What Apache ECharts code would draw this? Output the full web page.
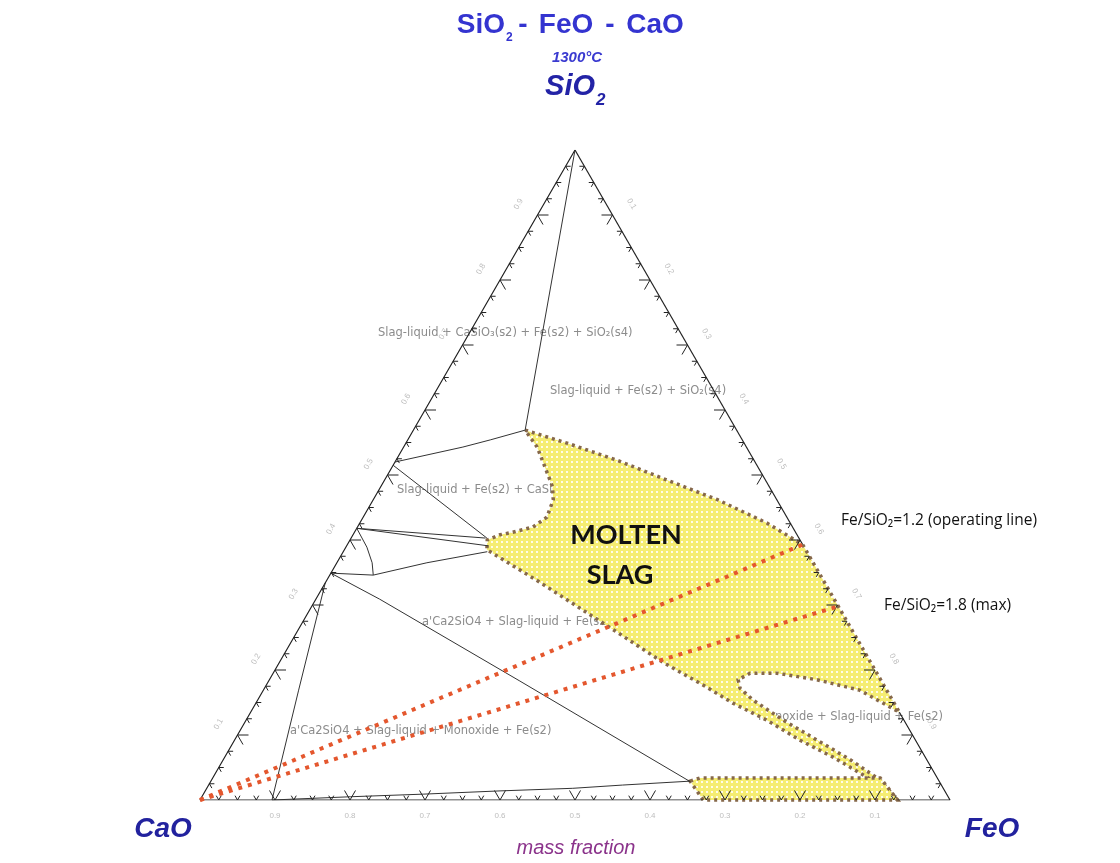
<!DOCTYPE html>
<html>
<head>
<meta charset="utf-8">
<title>SiO2 - FeO - CaO 1300°C</title>
<script src="https://cdn.jsdelivr.net/npm/echarts@6/dist/echarts.min.js"></script>
<style>
  html, body { margin: 0; padding: 0; background: #ffffff; }
  #main { width: 1120px; height: 863px; }
</style>
</head>
<body>
<div id="main"></div>
<script>
// every point is a composition [SiO2, FeO] in mass fraction, CaO = 1 - SiO2 - FeO
var H = Math.sqrt(3) / 2

// triangle corners
var cornerCaO = [0, 0]
var cornerSiO2 = [1, 0]
var cornerFeO = [0, 1]

// tick labels on each side
var tickLabels = ['0.1', '0.2', '0.3', '0.4', '0.5', '0.6', '0.7', '0.8', '0.9']

// black phase boundaries
var apexLine = [[1.0, 0.0], [0.569, 0.149]]
var cas1Line = [[0.520, 0.0], [0.543, 0.079], [0.554, 0.110], [0.569, 0.149]]
var cas2Line = [[0.515, 0.0], [0.403, 0.181]]
var wol1Line = [[0.418, 0.0], [0.403, 0.179]]
var wol2Line = [[0.418, 0.0], [0.391, 0.189]]
var shortCurve = [[0.418, 0.0], [0.389, 0.028], [0.365, 0.047], [0.346, 0.058]]
var c2sLine = [[0.349, 0.0], [0.346, 0.058], [0.365, 0.120], [0.382, 0.192]]
var longDiag = [[0.349, 0.0], [0.309, 0.085], [0.183, 0.335], [0.062, 0.573], [0.028, 0.640]]
var toBaseLine = [[0.334, 0.0], [0.169, 0.047], [0.0, 0.096]]
var nearBaseLine = [[0.0, 0.096], [0.005, 0.198], [0.009, 0.293], [0.014, 0.393], [0.018, 0.488], [0.023, 0.552], [0.029, 0.639]]

// molten slag region, walked round its dotted border
var slagUpper = [[0.569, 0.149], [0.549, 0.215], [0.523, 0.294], [0.492, 0.377], [0.462, 0.459], [0.426, 0.543], [0.393, 0.607]]
var slagRight = [[0.135, 0.865]]
var lobeBorder = [[0.169, 0.795], [0.185, 0.730], [0.195, 0.672], [0.195, 0.636], [0.185, 0.625], [0.172, 0.634], [0.154, 0.660],
  [0.123, 0.716], [0.092, 0.777], [0.062, 0.836], [0.031, 0.891], [0.0, 0.930]]
var slagLower = [[0.011, 0.915], [0.035, 0.872], [0.066, 0.811], [0.092, 0.754], [0.123, 0.694], [0.149, 0.636], [0.175, 0.586],
  [0.212, 0.511], [0.262, 0.420], [0.338, 0.280], [0.385, 0.190]]
var slagNotch = [[0.400, 0.183], [0.408, 0.196], [0.412, 0.211], [0.420, 0.234], [0.435, 0.245], [0.462, 0.240], [0.482, 0.229],
  [0.512, 0.204], [0.543, 0.178]]
var bottomBand = [[0.029, 0.639], [0.034, 0.650], [0.034, 0.890], [0.0, 0.930], [0.0, 0.671]]

// operating lines from the CaO corner
var opLine12 = [[0, 0], [0.393, 0.607]]
var opLine18 = [[0, 0], [0.298, 0.702]]

function toXY(c) {
  return [c[1] + c[0] / 2, c[0] * H]
}

// yellow with small white dots
var tex = document.createElement('canvas')
tex.width = 5
tex.height = 5
var g = tex.getContext('2d')
g.fillStyle = '#F5ED72'
g.fillRect(0, 0, 5, 5)
g.fillStyle = '#FFFDEA'
g.fillRect(1, 1, 2, 2)

function polygonSeries(points) {
  return {
    type: 'custom',
    coordinateSystem: 'cartesian2d',
    silent: true,
    z: 2,
    data: [[0, 0]],
    renderItem: function(params, api) {
      return {
        type: 'polygon',
        shape: { points: points.map(function(c) { return api.coord(toXY(c)) }) },
        style: { fill: { image: tex, repeat: 'repeat' }, stroke: '#86684a', lineWidth: 3.5, lineDash: [3, 4] }
      }
    }
  }
}

function lineSeries(points, color, width, type, z) {
  return {
    type: 'line',
    data: points.map(toXY),
    symbol: 'none',
    silent: true,
    z: z,
    lineStyle: { color: color, width: width, type: type, cap: 'butt' }
  }
}

// ticks: [side, position, major]  side 0 bottom, 1 left, 2 right
var ticks = []
for (var side = 0; side < 3; side++) {
  for (var k = 1; k < 40; k++) {
    ticks.push([side, k / 40, k % 4 === 0 ? 1 : 0])
  }
}
var tickArms = [[[0.5, -0.866], [-0.5, -0.866]], [[1, 0], [0.5, 0.866]], [[-1, 0], [-0.5, 0.866]]]
var labelShift = [[0, 16], [-19, -11], [19, -11]]
var labelTurn = [0, Math.PI / 3, -Math.PI / 3]

function tickItem(params, api) {
  var side = api.value(0)
  var t = api.value(1)
  var major = api.value(2)
  var comp = side === 0 ? [0, t] : side === 1 ? [t, 0] : [1 - t, t]
  var p = api.coord(toXY(comp))
  var len = major ? 11 : 5
  var children = tickArms[side].map(function(a) {
    return {
      type: 'line',
      shape: { x1: p[0], y1: p[1], x2: p[0] + a[0] * len, y2: p[1] + a[1] * len },
      style: { stroke: '#222', lineWidth: 1 }
    }
  })
  if (major) {
    var n = Math.round(t * 10)
    // bottom side reads CaO, which falls to the right
    var text = side === 0 ? tickLabels[9 - n] : tickLabels[n - 1]
    children.push({
      type: 'text',
      x: p[0] + labelShift[side][0],
      y: p[1] + labelShift[side][1],
      rotation: labelTurn[side],
      style: { text: text, fill: '#bdbdbd', font: '8px "Liberation Sans"', align: 'center', verticalAlign: 'middle' }
    })
  }
  return { type: 'group', children: children }
}

var regionFont = '11.5px "DejaVu Sans"'
var regionColor = '#8c8c8c'
function regionText(text, x, y) {
  return { type: 'text', x: x, y: y, z: 1, silent: true,
    style: { text: text, fill: regionColor, font: regionFont, align: 'left', verticalAlign: 'middle' } }
}
function topText(text, x, y, font, color, align) {
  return { type: 'text', x: x, y: y, z: 100, silent: true,
    style: { text: text, fill: color, font: font, align: align || 'center', verticalAlign: 'middle' } }
}

var chart = echarts.init(document.getElementById('main'))
var edgeColor = '#222'
var lineColor = '#333'
var opColor = '#E4572E'
var titleFont = 'bold 28px "Liberation Sans"'
var titleColor = '#3434d0'

chart.setOption({
  animation: false,
  backgroundColor: '#ffffff',
  grid: { left: 200, right: 170, top: 150, bottom: 63 },
  xAxis: { type: 'value', min: 0, max: 1, show: false },
  yAxis: { type: 'value', min: 0, max: H, show: false },
  graphic: [
    topText('SiO', 505, 25, titleFont, titleColor, 'right'),
    topText('2', 506, 38, 'bold 12px "Liberation Sans"', titleColor, 'left'),
    topText('-', 523, 25, titleFont, titleColor),
    topText('FeO', 566, 25, titleFont, titleColor),
    topText('-', 610, 25, titleFont, titleColor),
    topText('CaO', 655, 25, titleFont, titleColor),
    topText('1300°C', 577, 58, 'italic bold 15px "Liberation Sans"', '#3a3ad0'),
    topText('SiO', 595, 87, 'italic bold 29px "Liberation Sans"', '#2323a6', 'right'),
    topText('2', 596, 100, 'italic bold 17px "Liberation Sans"', '#2323a6', 'left'),
    topText('CaO', 163, 829, 'italic bold 28px "Liberation Sans"', '#22229e'),
    topText('FeO', 992, 829, 'italic bold 28px "Liberation Sans"', '#22229e'),
    topText('mass fraction', 576, 848, 'italic 20px "Liberation Sans"', '#8b338b'),
    topText('MOLTEN', 626, 535, 'bold 27px Lato', '#111111'),
    topText('SLAG', 620, 575, 'bold 27px Lato', '#111111'),
    topText('Fe/SiO\u2082=1.2 (operating line)', 841, 521, '15.5px "Open Sans"', '#111111', 'left'),
    topText('Fe/SiO\u2082=1.8 (max)', 884, 606, '15.5px "Open Sans"', '#111111', 'left'),
    regionText('Slag-liquid + CaSiO\u2083(s2) + Fe(s2) + SiO\u2082(s4)', 378, 333),
    regionText('Slag-liquid + Fe(s2) + SiO\u2082(s4)', 550, 391),
    regionText('Slag-liquid + Fe(s2) + CaSiO\u2083', 397, 490),
    regionText("a'Ca2SiO4 + Slag-liquid + Fe(s2)", 422, 622),
    regionText("a'Ca2SiO4 + Slag-liquid + Monoxide + Fe(s2)", 290, 731),
    regionText('Monoxide + Slag-liquid + Fe(s2)', 758, 717)
  ],
  series: [
    polygonSeries(slagUpper.concat(slagRight, lobeBorder, slagLower, slagNotch)),
    polygonSeries(bottomBand),
    // triangle edges, broken where the liquid touches them
    lineSeries([cornerSiO2, cornerCaO, [0, 0.671]], edgeColor, 1.2, 'solid', 3),
    lineSeries([[0, 0.930], cornerFeO, [0.135, 0.865]], edgeColor, 1.2, 'solid', 3),
    lineSeries([cornerSiO2, [0.393, 0.607]], edgeColor, 1.2, 'solid', 3),
    lineSeries(apexLine, lineColor, 1, 'solid', 3),
    lineSeries(cas1Line, lineColor, 1, 'solid', 3),
    lineSeries(cas2Line, lineColor, 1, 'solid', 3),
    lineSeries(wol1Line, lineColor, 1, 'solid', 3),
    lineSeries(wol2Line, lineColor, 1, 'solid', 3),
    lineSeries(shortCurve, lineColor, 1, 'solid', 3),
    lineSeries(c2sLine, lineColor, 1, 'solid', 3),
    lineSeries(longDiag, lineColor, 1, 'solid', 3),
    lineSeries(toBaseLine, lineColor, 1, 'solid', 3),
    lineSeries(nearBaseLine, lineColor, 1, 'solid', 3),
    {
      type: 'custom',
      coordinateSystem: 'cartesian2d',
      silent: true,
      z: 4,
      data: ticks,
      renderItem: tickItem
    },
    lineSeries(opLine12, opColor, 4, [4, 6], 5),
    lineSeries(opLine18, opColor, 4, [4, 6], 5)
  ]
})
</script>
</body>
</html>
